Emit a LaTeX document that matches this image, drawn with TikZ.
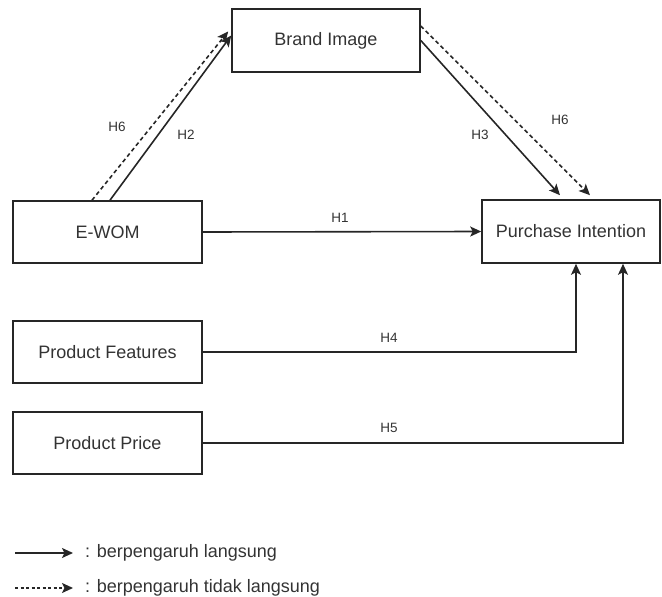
\documentclass[tikz,border=0pt]{standalone}
\usepackage{fontspec}
\setmainfont{Liberation Sans}
\usetikzlibrary{arrows.meta}
\definecolor{ink}{HTML}{333333}
\definecolor{wire}{HTML}{262626}
\tikzset{
  box/.style={draw=wire, line width=1.6pt, fill=white, text=ink,
    minimum width=189pt, minimum height=62pt, inner sep=0pt,
    font=\fontsize{18}{20}\selectfont},
  link/.style={draw=wire, line width=1.6pt,
    -{Stealth[length=11pt,width=10pt,inset=2.5pt]}},
  indirect/.style={link, dash pattern=on 4pt off 3pt},
  hlabel/.style={text=ink, inner sep=0pt, font=\fontsize{13.5}{15}\selectfont},
  legendtext/.style={text=ink, inner sep=0pt, anchor=west,
    font=\fontsize{18}{20}\selectfont}
}
\begin{document}
\begin{tikzpicture}[x=1pt, y=-1pt]
\useasboundingbox (0,0) rectangle (662,597);

% variables
\node[box, minimum width=188pt, minimum height=63pt] (bi) at (326,40.5) {Brand Image};
\node[box] (ewom) at (107.5,232) {E-WOM};
\node[box, minimum width=178pt, minimum height=63pt] (pi) at (571,231.5) {Purchase Intention};
\node[box] (pf) at (107.5,352) {Product Features};
\node[box] (pp) at (107.5,443) {Product Price};

% direct effects
\draw[link] (ewom.east) -- (pi.west);
\draw[link] ([xshift=2.5pt]ewom.north) -- ([yshift=5pt]bi.west);
\draw[link] (bi.east) -- ([xshift=-11pt,yshift=4pt]pi.north);
\draw[link] (pf.east) -| ([xshift=5pt]pi.south);
\draw[link] (pp.east) -| ([xshift=52pt]pi.south);

% mediated effects
\draw[indirect] ([xshift=-15.5pt]ewom.north) -- ([xshift=-3pt,yshift=9pt]bi.west);
\draw[indirect] ([yshift=14.5pt]bi.east) -- ([xshift=19pt,yshift=4pt]pi.north);

% hypothesis labels
\node[hlabel] (h1) at (340,218) {H1};
\node[hlabel] (h2) at (186,135) {H2};
\node[hlabel] (h6a) at (117,127) {H6};
\node[hlabel] (h3) at (480,135) {H3};
\node[hlabel] (h6b) at (560,120) {H6};
\node[hlabel] (h4) at (389,338) {H4};
\node[hlabel] (h5) at (389,428) {H5};

% legend
\coordinate (la) at (15,553);
\coordinate (lb) at (73,553);
\coordinate (lc) at (15,588);
\coordinate (ld) at (73,588);
\draw[link] (la) -- (lb);
\draw[indirect, dash pattern=on 3pt off 2.5pt] (lc) -- (ld);
\node[legendtext] (t1) at (85,553) {: berpengaruh langsung};
\node[legendtext] (t2) at (85,588) {: berpengaruh tidak langsung};
\end{tikzpicture}
\end{document}
